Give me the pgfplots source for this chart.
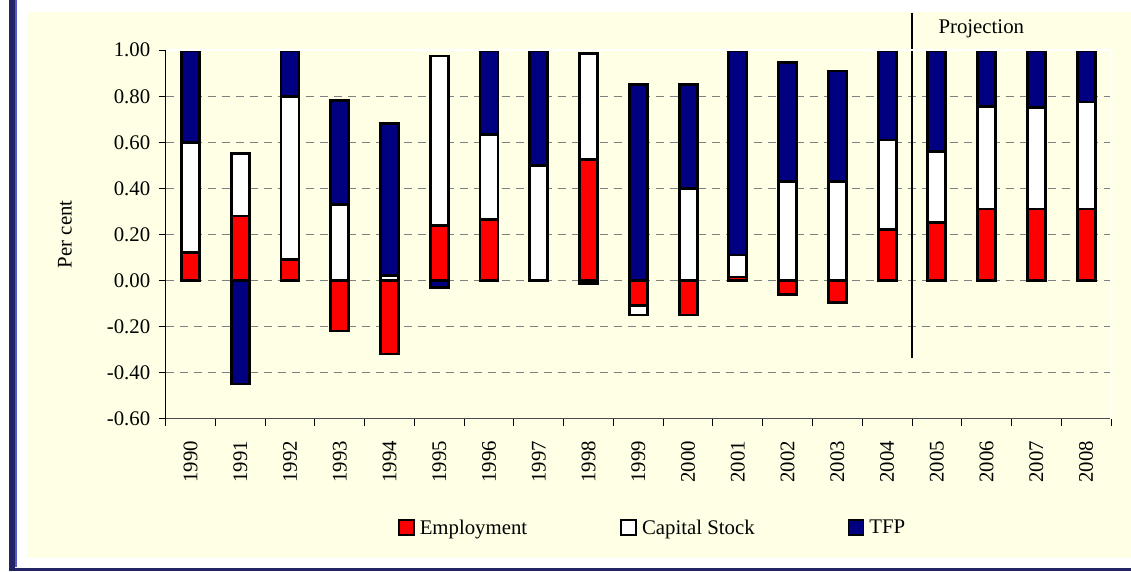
\documentclass[border=0pt]{standalone}
\usepackage{fontspec}
\setmainfont{Liberation Serif}
\usepackage{pgfplots}
\usepackage{pgfplotstable}
\pgfplotsset{compat=1.18}
\definecolor{bgyellow}{RGB}{255,255,230}
\definecolor{navybar}{RGB}{0,0,128}
\definecolor{frameblue}{RGB}{35,35,102}
\definecolor{framelight}{RGB}{88,88,200}

\pgfplotstableread{
x year emp cap tfp
0 1990 0.12 0.48 0.40
1 1991 0.28 0.27 -0.45
2 1992 0.09 0.71 0.20
3 1993 -0.22 0.33 0.45
4 1994 -0.32 0.02 0.66
5 1995 0.24 0.735 -0.03
6 1996 0.265 0.37 0.365
7 1997 0.00 0.50 0.50
8 1998 0.525 0.46 -0.015
9 1999 -0.11 -0.04 0.85
10 2000 -0.15 0.40 0.45
11 2001 0.015 0.095 0.89
12 2002 -0.06 0.43 0.515
13 2003 -0.095 0.43 0.48
14 2004 0.22 0.39 0.39
15 2005 0.25 0.31 0.44
16 2006 0.31 0.445 0.245
17 2007 0.31 0.44 0.25
18 2008 0.31 0.465 0.225
}\datatable

\pgfplotsset{
  base/.style={
    scale only axis, width=945.3pt, height=368.3pt,
    at={(165.7pt,152.5pt)}, anchor=south west,
    xmin=-0.5, xmax=18.5, ymin=-0.6, ymax=1.0,
    ybar stacked, bar width=18pt,
    clip=false,
  },
  seg/.style={draw=black, line width=2.8pt, fill=#1},
}

\begin{document}
\begin{tikzpicture}[font=\fontsize{20.8}{25}\selectfont]
\fill[white] (0,0) rectangle (1131pt,571pt);
\fill[bgyellow] (27pt,13.3pt) rectangle (1131pt,559pt);
\fill[frameblue] (9pt,0) rectangle (15pt,571pt);
\fill[framelight] (15pt,4.3pt) rectangle (17pt,571pt);
\fill[frameblue] (9pt,0) rectangle (1131pt,3.3pt);

\begin{axis}[base,
  axis lines*=left,
  x axis line style={black!70, line width=1pt},
  y axis line style={black, line width=1pt},
  xtick={-0.5,0.5,...,18.5},
  x tick label as interval,
  xticklabels={1990,1991,1992,1993,1994,1995,1996,1997,1998,1999,2000,2001,2002,2003,2004,2005,2006,2007,2008},
  xticklabel style={yshift=-12pt, rotate=90, anchor=east},
  ytick={-0.6,-0.4,-0.2,0,0.2,0.4,0.6,0.8,1.0},
  yticklabels={-0.60,-0.40,-0.20,0.00,0.20,0.40,0.60,0.80,1.00},
  yticklabel style={xshift=-5pt},
  ymajorgrids,
  grid style={black!50, dash pattern=on 8pt off 6pt, line width=0.9pt},
  major tick length=7pt, tick align=outside,
  tick style={black, line width=1pt},
  ylabel={Per cent},
  ylabel style={at={(axis description cs:-0.1065,0.5)}, anchor=center},
  legend columns=3,
  legend style={draw=none, fill=none, inner sep=0pt, outer sep=0pt,
    at={(axis description cs:0.2457,-0.297)}, anchor=west,
    column sep=0pt,
    /tikz/every odd column/.append style={column sep=5pt},
    /tikz/every even column/.append style={column sep=93pt},
    nodes={inner sep=0pt}},
  legend image code/.code={\draw[#1, line width=1.8pt] (0pt,-7.5pt) rectangle (15pt,7.5pt);},
]
\draw[white, line width=1.6pt] (rel axis cs:0,1) -- (rel axis cs:1,1) -- (rel axis cs:1,0);
\addplot[seg=red] table[x=x, y expr={max(\thisrow{emp},0)}] \datatable;
\addplot[seg=white] table[x=x, y expr={max(\thisrow{cap},0)}] \datatable;
\addplot[seg=navybar] table[x=x, y expr={max(\thisrow{tfp},0)}] \datatable;
\legend{Employment, Capital Stock, TFP}
\draw[black, line width=1.2pt] (axis cs:14.5,1.162) -- (axis cs:14.5,-0.337);
\node[anchor=base west, inner sep=0pt] at (axis cs:15.03,1.073) {Projection};
\end{axis}

\begin{axis}[base, hide axis]
\addplot[seg=red] table[x=x, y expr={min(\thisrow{emp},0)}] \datatable;
\addplot[seg=white] table[x=x, y expr={min(\thisrow{cap},0)}] \datatable;
\addplot[seg=navybar] table[x=x, y expr={min(\thisrow{tfp},0)}] \datatable;
\end{axis}
\end{tikzpicture}
\end{document}
